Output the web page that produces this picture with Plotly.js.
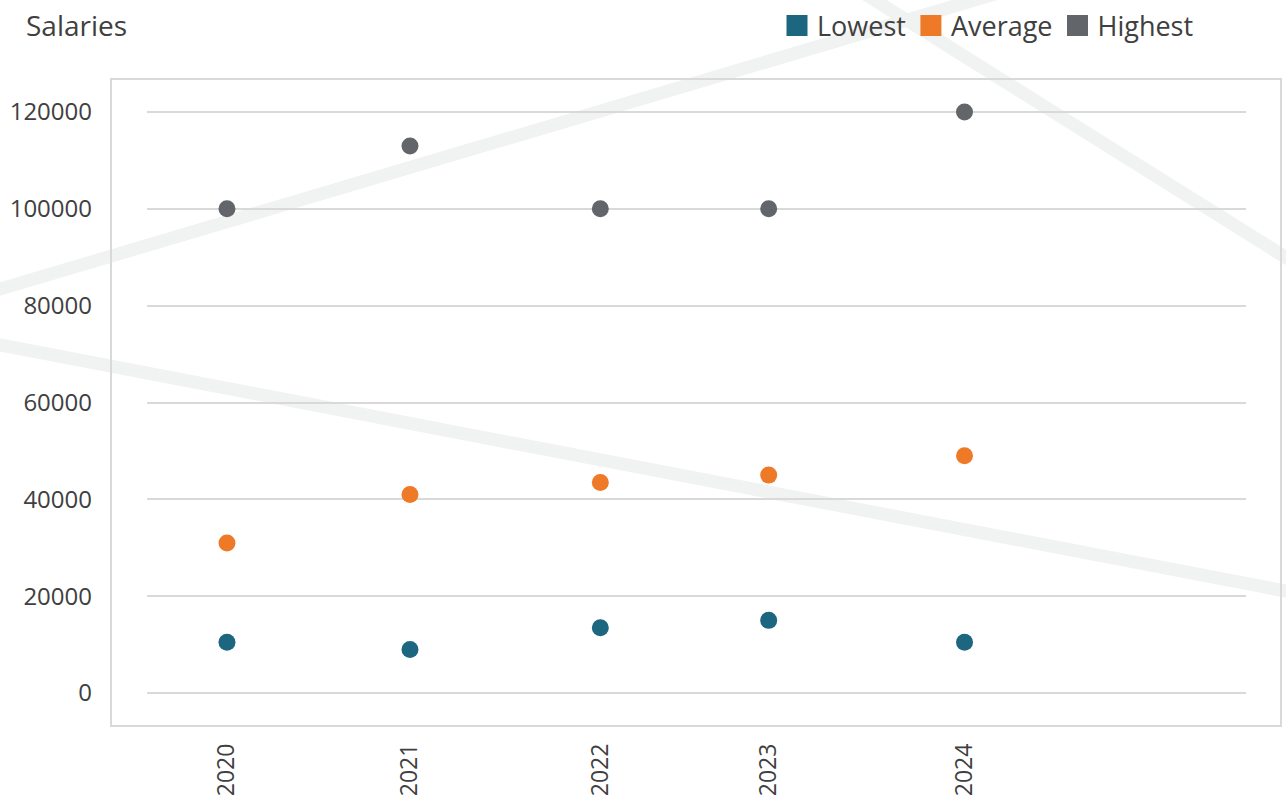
<!DOCTYPE html>
<html>
<head>
<meta charset="utf-8">
<script src="https://cdn.plot.ly/plotly-3.0.1.min.js"></script>
<style>
  html, body { margin: 0; padding: 0; background: #ffffff; }
  #chart { width: 1286px; height: 800px; }
</style>
</head>
<body>
<div id="chart"></div>
<script>
// ---- data ----
const yearLabels = ["2020", "2021", "2022", "2023", "2024"];
// x positions of the years as placed on the original (uneven) axis
const yearPos = [2020.0, 2021.0, 2022.04, 2022.96, 2024.03];
const lowest  = [10500, 9000, 13500, 15000, 10500];
const average = [31000, 41000, 43500, 45000, 49000];
const highest = [100000, 113000, 100000, 100000, 120000];
const seriesNames = ["Lowest", "Average", "Highest"];
const yTicks = [0, 20000, 40000, 60000, 80000, 100000, 120000];

// ---- styling ----
const colors = ["#1c6680", "#ee7a27", "#626569"];
const textColor = "#404040";
const FONT = "Open Sans, Lato, sans-serif";

// plot-area geometry in pixels (for decorative shapes)
const L = 147, R = 1246, T = 79, B = 726;
const px = X => (X - L) / (R - L);
const py = Y => (B - Y) / (B - T);

const series = [lowest, average, highest];
const traces = [];
series.forEach((vals, i) => {
  traces.push({
    type: "scatter", mode: "markers",
    x: yearPos, y: vals, name: seriesNames[i],
    showlegend: false,
    marker: { color: colors[i], size: 17 },
    hoverinfo: "x+y+name"
  });
});
// legend entries with square keys
series.forEach((vals, i) => {
  traces.push({
    type: "scatter", mode: "markers",
    x: [null], y: [null], name: seriesNames[i],
    showlegend: true,
    marker: { color: colors[i], symbol: "square", size: 16,
              line: { color: colors[i], width: 5 } }
  });
});

function band(x0, y0, x1, y1) {
  return { type: "line", xref: "paper", yref: "paper", layer: "below",
           x0: px(x0), y0: py(y0), x1: px(x1), y1: py(y1),
           line: { color: "#f1f2f2", width: 13 } };
}

const layout = {
  width: 1286, height: 800,
  margin: { l: L, r: 1286 - R, t: T, b: 800 - B, pad: 0 },
  paper_bgcolor: "#ffffff",
  plot_bgcolor: "rgba(0,0,0,0)",
  font: { family: FONT, color: textColor, size: 24 },
  title: {
    text: "Salaries",
    font: { family: FONT, size: 28, color: textColor },
    xref: "container", yref: "container",
    x: 26 / 1286, xanchor: "left",
    y: 1 - 26 / 800, yanchor: "middle"
  },
  showlegend: true,
  legend: {
    orientation: "h",
    xref: "container", yref: "container",
    x: 777 / 1286, xanchor: "left",
    y: 1 - 26 / 800, yanchor: "middle",
    font: { family: FONT, size: 27, color: textColor },
    bgcolor: "rgba(0,0,0,0)",
    borderwidth: 0,
    itemclick: false, itemdoubleclick: false
  },
  xaxis: {
    type: "linear",
    range: [2019.563, 2025.568],
    tickmode: "array",
    tickvals: yearPos,
    ticktext: yearLabels,
    tickangle: -90,
    ticks: "",
    ticklabelstandoff: 12,
    showgrid: false, zeroline: false, showline: false,
    tickfont: { family: FONT, size: 23, color: textColor },
    fixedrange: true
  },
  yaxis: {
    range: [-6816, 126816],
    tickmode: "array",
    tickvals: yTicks,
    ticktext: yTicks.map(String),
    ticks: "",
    ticklabelstandoff: 54,
    showgrid: true, gridcolor: "#d9d9d9", gridwidth: 2,
    zeroline: false, showline: false,
    tickfont: { family: FONT, size: 24, color: textColor },
    fixedrange: true
  },
  shapes: [
    band(-20, 295, 995, -6),
    band(-20, 341, 1306, 595),
    band(860, -9, 1306, 270),
    { type: "rect", xref: "paper", yref: "paper", layer: "below",
      x0: px(111), x1: px(1281), y0: py(726), y1: py(79),
      line: { color: "#d9d9d9", width: 2 }, fillcolor: "rgba(0,0,0,0)" }
  ],
  hovermode: "closest"
};

Plotly.newPlot("chart", traces, layout, { displayModeBar: false, staticPlot: false });
</script>
</body>
</html>
